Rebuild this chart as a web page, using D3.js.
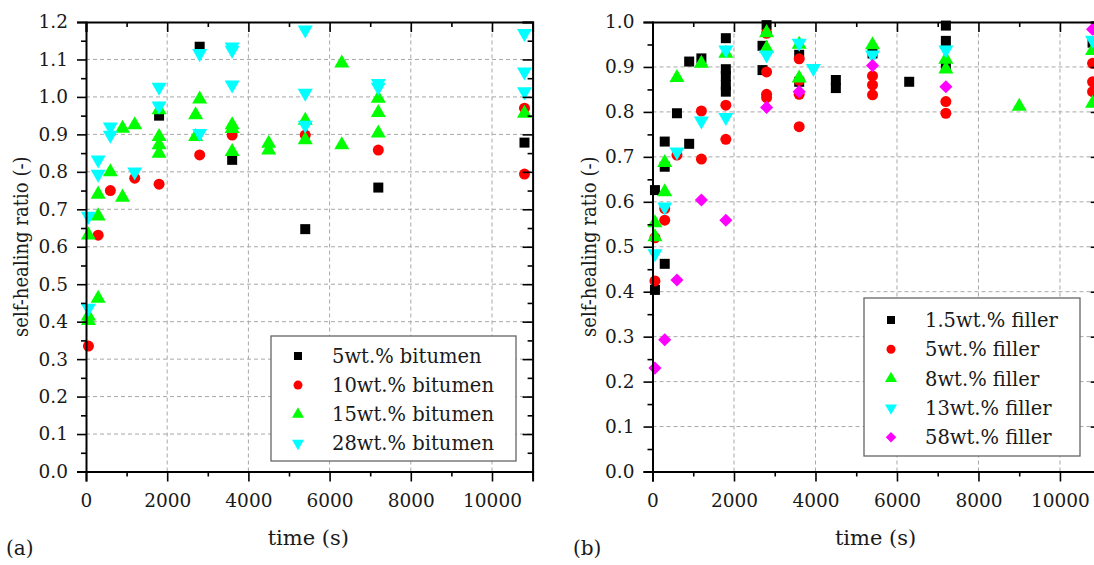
<!DOCTYPE html>
<html>
<head>
<meta charset="utf-8">
<script src="https://cdn.jsdelivr.net/npm/d3@7"></script>
<style>
  body { margin: 0; background: #fff; }
  svg text { font-family: 'DejaVu Serif', serif; fill: #1a1a1a; }
  .grid line { stroke: #a8a8a8; stroke-dasharray: 4,3; stroke-width: 1; }
  .axis path, .axis line { stroke: #000; }
  .axis path { stroke-width: 2; }
  .axis line { stroke-width: 1.6; }
</style>
</head>
<body>
<svg width="1094" height="565"></svg>
<script>
/* global d3 */

// panel (a): [time (s), self-healing ratio]
const bit5 = [[1800, 0.95], [2800, 1.134], [3600, 0.832], [5400, 0.647], [7200, 0.758], [10800, 0.878]];
const bit10 = [[60, 0.335], [300, 0.631], [600, 0.750], [1200, 0.783], [1800, 0.767], [2800, 0.845],
  [3600, 0.898], [5400, 0.898], [7200, 0.858], [10800, 0.970], [10800, 0.794]];
const bit15 = [[60, 0.631], [60, 0.415], [60, 0.403], [300, 0.462], [300, 0.682], [300, 0.740], [600, 0.800],
  [900, 0.732], [900, 0.916], [1200, 0.925], [1800, 0.849], [1800, 0.872], [1800, 0.894], [1800, 0.965],
  [2700, 0.894], [2700, 0.952], [2800, 0.994], [3600, 0.854], [3600, 0.915], [3600, 0.925], [4500, 0.858],
  [4500, 0.876], [5400, 0.885], [5400, 0.937], [6300, 1.090], [6300, 0.872], [7200, 0.996], [7200, 0.958],
  [7200, 0.903], [10800, 0.956]];
const bit28 = [[60, 0.436], [60, 0.682], [300, 0.794], [300, 0.832], [600, 0.898], [600, 0.920], [1200, 0.800],
  [1800, 0.976], [1800, 1.026], [2800, 1.116], [2800, 0.903], [3600, 1.134], [3600, 1.125], [3600, 1.032],
  [5400, 1.179], [5400, 1.010], [5400, 0.925], [7200, 1.036], [7200, 1.026], [10800, 1.170], [10800, 1.067],
  [10800, 1.014]];

// panel (b)
const fil1p5 = [[60, 0.626], [60, 0.404], [300, 0.734], [300, 0.678], [300, 0.462], [600, 0.797], [900, 0.912],
  [900, 0.729], [1200, 0.919], [1800, 0.964], [1800, 0.895], [1800, 0.88], [1800, 0.86], [1800, 0.845],
  [2700, 0.947], [2700, 0.893], [2800, 0.993], [3600, 0.927], [3600, 0.867], [4500, 0.871], [4500, 0.853],
  [5400, 0.93], [6300, 0.867], [7200, 0.992], [7200, 0.958], [7200, 0.904], [10800, 0.954]];
const fil5 = [[60, 0.52], [60, 0.424], [300, 0.585], [300, 0.559], [600, 0.704], [1200, 0.802], [1200, 0.695],
  [1800, 0.815], [1800, 0.739], [2800, 0.975], [2800, 0.889], [2800, 0.839], [2800, 0.832], [3600, 0.918],
  [3600, 0.87], [3600, 0.839], [3600, 0.767], [5400, 0.880], [5400, 0.860], [5400, 0.838], [7200, 0.823],
  [7200, 0.797], [10800, 0.908], [10800, 0.867], [10800, 0.845]];
const fil8 = [[60, 0.553], [60, 0.522], [300, 0.687], [300, 0.622], [600, 0.876], [1200, 0.908], [1800, 0.930],
  [2800, 0.976], [2800, 0.941], [3600, 0.950], [3600, 0.875], [5400, 0.949], [7200, 0.917], [7200, 0.895],
  [9000, 0.812], [10800, 0.936], [10800, 0.819]];
const fil13 = [[60, 0.485], [300, 0.589], [600, 0.711], [1200, 0.780], [1800, 0.938], [1800, 0.788], [2800, 0.927],
  [3600, 0.953], [3950, 0.897], [5400, 0.927], [7200, 0.938], [10800, 0.96]];
const fil58 = [[60, 0.230], [300, 0.293], [600, 0.426], [1200, 0.604], [1800, 0.559], [2800, 0.810], [3600, 0.845],
  [5400, 0.903], [7200, 0.856], [10800, 0.984]];

const labelsA = ['5wt.% bitumen', '10wt.% bitumen', '15wt.% bitumen', '28wt.% bitumen'];
const labelsB = ['1.5wt.% filler', '5wt.% filler', '8wt.% filler', '13wt.% filler', '58wt.% filler'];
const xTicks = [0, 2000, 4000, 6000, 8000, 10000];

const colors = ['#000000', '#ff0000', '#00ff00', '#00ffff', '#ff00ff'];
const shapes = ['square', 'circle', 'up', 'down', 'diamond'];

const svg = d3.select('svg');

function symbolPath(shape, s) {
  if (shape === 'square') return d3.symbol(d3.symbolSquare, s * s)();
  if (shape === 'circle') return d3.symbol(d3.symbolCircle, Math.PI * s * s / 4)();
  if (shape === 'diamond') return d3.symbol(d3.symbolSquare, s * s * 0.55)();
  return d3.symbol(d3.symbolTriangle, Math.sqrt(3) / 4 * s * s * 1.45)();
}
function symbolRot(shape) {
  if (shape === 'down') return ' rotate(180)';
  if (shape === 'diamond') return ' rotate(45)';
  return '';
}

function drawPanel(p) {
  const x = d3.scaleLinear().domain([0, 11000]).range([p.left, p.right]);
  const y = d3.scaleLinear().domain([0, p.yMax]).range([471.5, 22]);
  const yMajor = d3.range(0, p.yMax + 0.001, 0.1).map(v => +v.toFixed(2));
  const yMinor = d3.range(0.05, p.yMax, 0.1).map(v => +v.toFixed(2));
  const xMinor = d3.range(1000, 11001, 2000);

  const g = svg.append('g');

  // grid
  g.append('g').attr('class', 'grid')
    .selectAll('line.v')
    .data(xTicks.slice(1))
    .enter().append('line')
      .attr('x1', d => x(d)).attr('x2', d => x(d))
      .attr('y1', y(0)).attr('y2', y(p.yMax));
  g.append('g').attr('class', 'grid')
    .selectAll('line.h')
    .data(yMajor.slice(1, -1).concat([0]))
    .enter().append('line')
      .attr('x1', x(0)).attr('x2', x(11000))
      .attr('y1', d => y(d)).attr('y2', d => y(d));

  // points
  p.series.forEach((data, i) => {
    g.append('g')
      .selectAll('path')
      .data(data)
      .enter().append('path')
        .attr('d', symbolPath(shapes[i], shapes[i] === 'square' ? 10 : shapes[i] === 'circle' ? 11 : 12.5))
        .attr('transform', d => `translate(${x(d[0])},${y(d[1])})${symbolRot(shapes[i])}`)
        .attr('fill', colors[i]);
  });

  // axes
  const bottom = g.append('g').attr('class', 'axis').attr('transform', `translate(0,${y(0)})`);
  bottom.call(d3.axisBottom(x).tickValues(xTicks).tickSize(10).tickPadding(12).tickFormat(d3.format('d')));
  bottom.append('g').call(d3.axisBottom(x).tickValues(xMinor).tickSize(5).tickFormat(''))
    .select('.domain').remove();
  g.append('g').attr('class', 'axis').attr('transform', `translate(0,${y(p.yMax)})`)
    .call(d3.axisTop(x).tickValues(xTicks).tickSize(-10).tickFormat(''))
    .append('g').call(d3.axisTop(x).tickValues(xMinor).tickSize(-5).tickFormat(''))
    .select('.domain').remove();

  const left = g.append('g').attr('class', 'axis').attr('transform', `translate(${x(0)},0)`);
  left.call(d3.axisLeft(y).tickValues(yMajor).tickSize(9).tickPadding(9).tickFormat(d3.format('.1f')));
  left.append('g').call(d3.axisLeft(y).tickValues(yMinor).tickSize(5).tickFormat(''))
    .select('.domain').remove();
  const right = g.append('g').attr('class', 'axis').attr('transform', `translate(${x(11000)},0)`);
  right.call(d3.axisRight(y).tickValues(yMajor).tickSize(-10).tickFormat(''));
  right.append('g').call(d3.axisRight(y).tickValues(yMinor).tickSize(-5).tickFormat(''))
    .select('.domain').remove();

  g.selectAll('.axis text')
    .attr('font-family', null)
    .attr('font-size', null)
    .style('font-size', '18.5px')
    .style('fill', '#1a1a1a');

  // labels
  g.append('text')
    .attr('transform', `translate(${p.yLabelX},${(y(0) + y(p.yMax)) / 2}) rotate(-90) scale(0.86,1)`)
    .attr('text-anchor', 'middle')
    .style('font-size', '21px')
    .text('self-healing ratio (-)');
  g.append('text')
    .attr('x', x(5500) - 1)
    .attr('y', 545)
    .attr('text-anchor', 'middle')
    .style('font-size', '21px')
    .text('time (s)');
  g.append('text')
    .attr('x', p.tagX)
    .attr('y', 555)
    .style('font-size', '20px')
    .text(p.tag);

  // legend
  const lg = g.append('g');
  lg.append('rect')
    .attr('x', p.legend.x).attr('y', p.legend.y)
    .attr('width', p.legend.w).attr('height', p.legend.h)
    .attr('fill', '#fff').attr('stroke', '#666').attr('stroke-width', 1.3);
  const item = lg.selectAll('g.item')
    .data(p.labels)
    .enter().append('g')
      .attr('transform', (d, i) => `translate(${p.legend.x},${p.legend.row0 + i * p.legend.step})`);
  item.append('path')
    .attr('d', (d, i) => symbolPath(shapes[i], shapes[i] === 'square' ? 8 : shapes[i] === 'circle' ? 9 : 10))
    .attr('transform', (d, i) => `translate(${p.legend.mx},0)${symbolRot(shapes[i])}`)
    .attr('fill', (d, i) => colors[i]);
  item.append('text')
    .attr('x', p.legend.tx)
    .attr('dy', '0.36em')
    .style('font-size', '19.5px')
    .text(d => d);
}

drawPanel({
  left: 86, right: 532.6, yMax: 1.2,
  series: [bit5, bit10, bit15, bit28],
  labels: labelsA,
  yLabelX: 28, tagX: 6, tag: '(a)',
  legend: { x: 271, y: 336, w: 245, h: 125, row0: 356, step: 29.1, mx: 27, tx: 61 }
});
drawPanel({
  left: 652.5, right: 1100.7, yMax: 1.0,
  series: [fil1p5, fil5, fil8, fil13, fil58],
  labels: labelsB,
  yLabelX: 596, tagX: 573, tag: '(b)',
  legend: { x: 864, y: 298, w: 216, h: 158, row0: 320, step: 29.3, mx: 27, tx: 61 }
});
</script>
</body>
</html>
